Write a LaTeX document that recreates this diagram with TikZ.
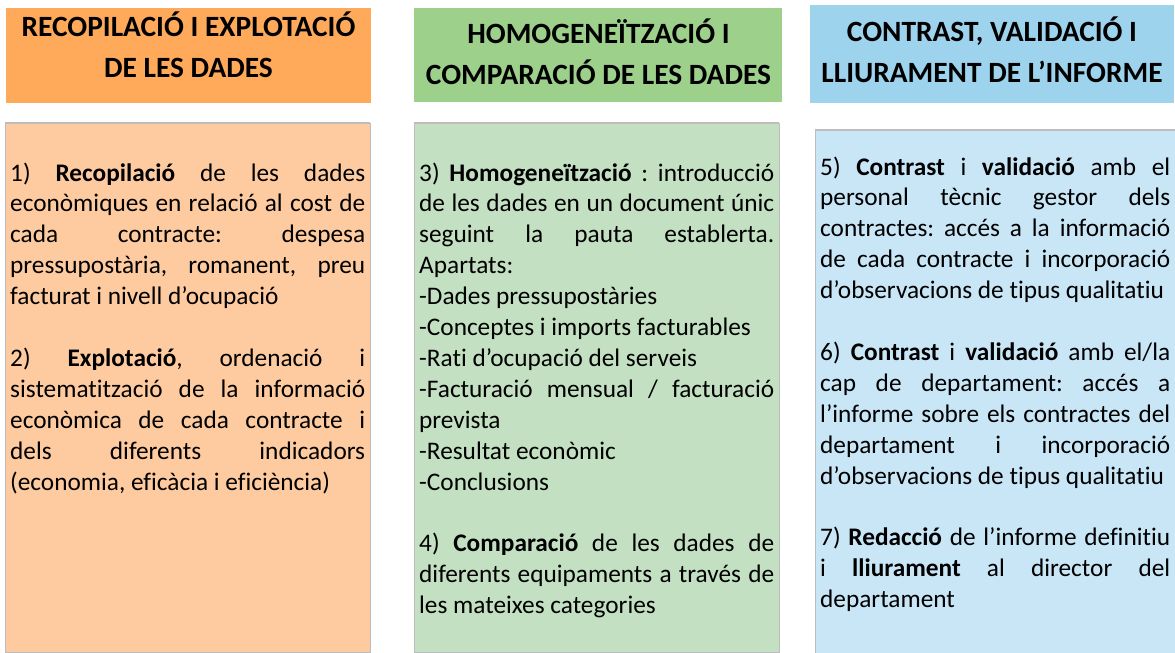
\documentclass[tikz,border=0pt]{standalone}
\usepackage{fontspec}
\setmainfont[Ligatures=NoCommon]{Carlito}
\definecolor{hA}{HTML}{FFAA5A}
\definecolor{bA}{HTML}{FECBA0}
\definecolor{hB}{HTML}{9CD08B}
\definecolor{bB}{HTML}{C3E0C2}
\definecolor{hC}{HTML}{9ED3EE}
\definecolor{bC}{HTML}{C9E6F7}
\definecolor{edge}{HTML}{BDBDBD}
\newcommand\jline[1]{\hbox to\hsize{#1}}
\newcommand\nline[1]{\hbox{#1}}
\newcommand\bline{\vskip\baselineskip}
\newcommand\colbox[2]{\vtop{\hsize=#1\relax #2}}
\begin{document}
\begin{tikzpicture}[x=1pt,y=-1pt,
  headbox/.style={rectangle,inner sep=0pt,draw=none},
  bodybox/.style={rectangle,inner sep=0pt,draw=edge,line width=0.6pt},
  topedge/.style={draw=edge,line width=2.4pt},
  headtext/.style={inner sep=0pt,align=center,anchor=base,
    font=\bfseries\fontsize{29.4}{41}\selectfont},
  bodytext/.style={inner sep=0pt,anchor=base west,
    font=\frenchspacing\fontsize{25.3}{30.9}\selectfont}]
\useasboundingbox (0,0) rectangle (1175,653);
% headers
\node[headbox,fill=hA,minimum width=365pt,minimum height=95pt] (h1) at (188.5,55.5) {};
\node[headbox,fill=hB,minimum width=368pt,minimum height=94pt] (h2) at (598,55) {};
\node[headbox,fill=hC,minimum width=364pt,minimum height=98pt] (h3) at (992,54) {};
\node[headtext] (t1) at (188.5,77) {RECOPILACIÓ I EXPLOTACIÓ\\DE LES DADES};
\node[headtext] (t2) at (598.5,84.5) {HOMOGENEÏTZACIÓ I\\COMPARACIÓ DE LES DADES};
\node[headtext] (t3) at (992,82) {CONTRAST, VALIDACIÓ I\\LLIURAMENT DE L’INFORME};
% bodies
\node[bodybox,fill=bA,minimum width=365pt,minimum height=529pt] (b1) at (187.5,387.5) {};
\node[bodybox,fill=bB,minimum width=365pt,minimum height=529pt] (b2) at (596.5,387.5) {};
\node[bodybox,fill=bC,minimum width=362pt,minimum height=527pt] (b3) at (996,393.5) {};
\draw[topedge] (b1.north west) -- (b1.north east);
\draw[topedge] (b2.north west) -- (b2.north east);
\draw[topedge] (b3.north west) -- (b3.north east);
% body texts
\node[bodytext] (p1) at (10,181) {\colbox{355pt}{%
\jline{1) \textbf{Recopilació} de les dades}
\jline{econòmiques en relació al cost de}
\jline{cada contracte: despesa}
\jline{pressupostària, romanent, preu}
\nline{facturat i nivell d’ocupació}
\bline
\jline{2) \textbf{Explotació}, ordenació i}
\jline{sistematització de la informació}
\jline{econòmica de cada contracte i}
\jline{dels diferents indicadors}
\nline{(economia, eficàcia i eficiència)}}};
\node[bodytext] (p2) at (419,181) {\colbox{355pt}{%
\jline{3) \textbf{Homogeneïtzació} : introducció}
\jline{de les dades en un document únic}
\jline{seguint la pauta establerta.}
\nline{Apartats:}
\nline{-Dades pressupostàries}
\nline{-Conceptes i imports facturables}
\nline{-Rati d’ocupació del serveis}
\jline{-Facturació mensual / facturació}
\nline{prevista}
\nline{-Resultat econòmic}
\nline{-Conclusions}
\bline
\jline{4) \textbf{Comparació} de les dades de}
\jline{diferents equipaments a través de}
\nline{les mateixes categories}}};
\node[bodytext] (p3) at (820,175) {\colbox{350pt}{%
\jline{5) \textbf{Contrast} i \textbf{validació} amb el}
\jline{personal tècnic gestor dels}
\jline{contractes: accés a la informació}
\jline{de cada contracte i incorporació}
\nline{d’observacions de tipus qualitatiu}
\bline
\jline{6) \textbf{Contrast} i \textbf{validació} amb el/la}
\jline{cap de departament: accés a}
\jline{l’informe sobre els contractes del}
\jline{departament i incorporació}
\nline{d’observacions de tipus qualitatiu}
\bline
\jline{7) \textbf{Redacció} de l’informe definitiu}
\jline{i \textbf{lliurament} al director del}
\nline{departament}}};
\end{tikzpicture}
\end{document}
